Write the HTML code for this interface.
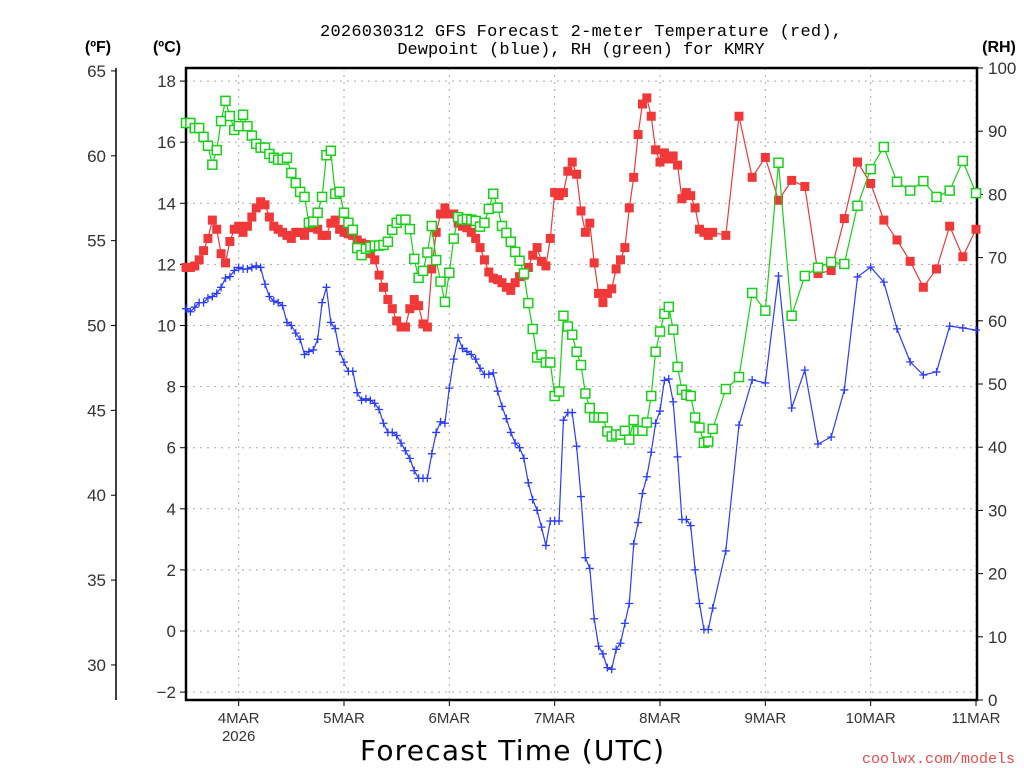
<!DOCTYPE html>
<html><head><meta charset="utf-8"><style>
html,body{margin:0;padding:0;background:#fff;}
svg{display:block;}
text{font-family:"Liberation Sans",sans-serif;}
</style></head><body>
<svg id="chart" width="1024" height="768" viewBox="0 0 1024 768" xmlns="http://www.w3.org/2000/svg">
<text x="581" y="36" text-anchor="middle" font-size="17" style="font-family:'Liberation Mono',monospace" fill="#000" textLength="522">2026030312 GFS Forecast 2-meter Temperature (red),</text>
<text x="581" y="54" text-anchor="middle" font-size="17" style="font-family:'Liberation Mono',monospace" fill="#000">Dewpoint (blue), RH (green) for KMRY</text>
<text x="98" y="52" text-anchor="middle" font-size="16" font-weight="bold">(ºF)</text>
<text x="167" y="52" text-anchor="middle" font-size="16" font-weight="bold">(ºC)</text>
<text x="999" y="52" text-anchor="middle" font-size="16" font-weight="bold">(RH)</text>
<text x="512" y="760" text-anchor="middle" font-size="28" style="font-family:'DejaVu Sans',sans-serif" fill="#000" textLength="304" lengthAdjust="spacing">Forecast Time (UTC)</text>
<text x="1015" y="763" text-anchor="end" font-size="15" style="font-family:'Liberation Mono',monospace" fill="#f04848">coolwx.com/models</text>
<g id="grid"></g><g id="axes"></g><g id="series"></g>
</svg>
<script>
// data: forecast hour, values
const tempHours = [];
for (let h = 0; h <= 120; h++) tempHours.push(h);
const tempLate = [123,126,129,132,135,138,141,144,147,150,153,156,159,162,165,168,171,174,177,180];
const tempC = [11.9,11.9,11.95,12.15,12.45,12.85,13.45,13.15,12.35,12.05,12.75,13.15,13.25,13.05,13.25,13.55,13.85,14.05,13.95,13.55,13.25,13.15,13.05,12.95,12.85,13.05,13.05,12.95,13.2,13.35,13.15,12.95,12.95,13.35,13.45,13.15,13.05,13.0,
12.95,12.8,12.7,12.65,12.35,12.15,11.65,11.25,10.85,10.55,10.15,9.95,9.95,10.55,10.85,10.65,10.05,9.95,11.85,13.05,13.65,13.85,13.65,13.65,13.35,13.25,13.2,13.05,12.85,12.55,12.15,11.75,11.55,11.5,11.4,11.25,11.15,11.4,11.6,11.65,11.9,
12.3,12.55,12.1,11.95,12.85,
14.35,14.25,14.35,15.05,15.35,14.95,13.75,13.05,13.35,12.05,11.05,10.75,11.05,11.2,11.85,12.15,12.55,13.85,14.85,16.25,17.25,17.45,16.85,15.75,15.35,15.65,15.45,15.55,15.25,14.15,14.35,14.25,13.85,13.15,13.05,12.95,13.05,
12.95,16.85,14.85,15.5,14.1,14.75,14.55,11.7,11.8,13.5,15.35,14.65,13.45,12.8,12.1,11.25,11.85,13.25,12.25,13.15];
const dewC = [10.55,10.45,10.6,10.75,10.75,10.9,10.95,11.05,11.25,11.55,11.6,11.8,11.9,11.85,11.85,11.9,11.95,11.9,11.35,10.95,10.8,10.75,10.65,10.1,10.0,9.75,9.55,9.05,9.15,9.2,9.55,10.75,11.25,10.1,9.9,9.15,8.8,8.5,
8.5,7.8,7.55,7.6,7.55,7.45,7.25,6.8,6.5,6.5,6.4,6.15,5.9,5.65,5.25,5.0,5.0,5.0,5.8,6.5,6.85,6.8,7.95,8.9,9.6,9.25,9.15,9.05,8.9,8.6,8.4,8.4,8.45,7.85,7.35,6.95,6.5,6.15,6.0,5.65,4.85,4.3,
3.95,3.4,2.8,3.6,3.6,3.6,6.9,7.15,7.15,6.05,4.4,2.4,2.05,0.4,-0.5,-0.75,-1.2,-1.25,-0.6,-0.4,0.25,0.9,2.85,3.55,4.5,5.05,5.85,6.8,7.2,8.2,8.25,7.5,5.7,3.65,3.65,3.45,2.0,0.9,0.05,0.05,0.75,
2.62,6.74,8.22,8.12,11.62,7.3,8.54,6.12,6.35,7.89,11.59,11.91,11.42,9.89,8.81,8.38,8.48,9.98,9.92,9.85];
const rhPct = [91.3,91.3,90.5,90.5,89.1,87.7,84.7,87.0,91.6,94.8,92.4,90.2,90.8,92.6,90.8,89.3,88.0,87.4,87.4,86.4,85.8,85.5,85.5,85.8,83.4,81.8,80.4,79.6,75.5,75.7,77.1,79.6,86.2,86.9,80.1,80.4,77.1,75.5,
74.4,71.5,70.4,71.4,71.7,71.9,71.9,72.0,72.5,74.4,75.5,76.0,76.0,74.5,69.8,66.8,67.9,70.8,75.0,69.6,66.2,63.0,67.6,73.0,76.4,76.0,76.1,76.0,75.8,74.9,75.5,77.7,80.1,77.9,75.0,73.9,72.5,70.9,69.5,67.5,62.8,58.7,54.2,54.6,53.4,53.4,48.1,
48.8,60.8,59.1,57.8,55.1,53.0,48.5,46.2,44.7,44.7,44.7,42.5,41.7,42.0,42.0,42.6,41.2,44.3,42.6,42.6,43.9,48.1,55.1,58.3,61.1,62.2,58.6,52.7,49.1,48.3,48.1,44.7,43.1,40.7,40.9,42.9,
49.2,51.1,64.4,61.6,85.0,60.8,67.1,68.4,69.3,69.0,78.2,84.0,87.5,82.0,80.6,82.1,79.6,80.6,85.3,80.2];
const cTicks = [-2,0,2,4,6,8,10,12,14,16,18];
const fTicks = [30,35,40,45,50,55,60,65];
const rhTicks = [0,10,20,30,40,50,60,70,80,90,100];
const dayLabels = ['4MAR','5MAR','6MAR','7MAR','8MAR','9MAR','10MAR','11MAR'];
const dayHours = [12,36,60,84,108,132,156,180];

const hours = tempHours.concat(tempLate);
const L=186,R=977,T=68,B=700;
const xOf = h => L + (R-L-1)*h/180;
const yC = c => 631 - c*30.55;
const yF = f => yC((f-32)/1.8);
const yRH = r => B - (B-T)*r/100;
const NS='http://www.w3.org/2000/svg';
function mk(tag, attrs, parent){const e=document.createElementNS(NS,tag);for(const k in attrs)e.setAttribute(k,attrs[k]);parent.appendChild(e);return e;}
const grid=document.getElementById('grid'), axes=document.getElementById('axes'), series=document.getElementById('series');

cTicks.forEach(c=>{
  const y=yC(c);
  const g=mk('line',{x1:L,x2:R,y1:y,y2:y,stroke:'#aaa','stroke-width':1,'stroke-dasharray':'2,5'},grid);
  
  
  mk('line',{x1:L-6,x2:L,y1:y,y2:y,stroke:'#000','stroke-width':1},axes);
  const t=mk('text',{x:L-10,y:y+6,'text-anchor':'end','font-size':17,fill:'#333'},axes);
  t.textContent=c<0?'\u2212'+(-c):String(c);
  
  
});
dayHours.forEach((h,i)=>{
  const x=xOf(h);
  const g=mk('line',{x1:x,x2:x,y1:T,y2:B,stroke:'#aaa','stroke-width':1,'stroke-dasharray':'2,5'},grid);
  
  
  mk('line',{x1:x,x2:x,y1:B,y2:B+6,stroke:'#000','stroke-width':1},axes);
  const t=mk('text',{x:x,y:B+23,'text-anchor':'middle','font-size':15,fill:'#333'},axes);
  t.textContent=dayLabels[i];
  
  
});
const yr=mk('text',{x:xOf(12),y:B+41,'text-anchor':'middle','font-size':15,fill:'#333'},axes);
yr.textContent='2026';


fTicks.forEach(f=>{
  const y=yF(f);
  mk('line',{x1:111,x2:116,y1:y,y2:y,stroke:'#000','stroke-width':1},axes);
  const t=mk('text',{x:106,y:y+6,'text-anchor':'end','font-size':17,fill:'#333'},axes);
  t.textContent=String(f);
  
  
});
rhTicks.forEach(r=>{
  const y=yRH(r);
  mk('line',{x1:R,x2:R+6,y1:y,y2:y,stroke:'#000','stroke-width':1},axes);
  const t=mk('text',{x:R+11,y:y+6,'text-anchor':'start','font-size':17,fill:'#333'},axes);
  t.textContent=String(r);
  
  
});
const fa=mk('line',{x1:116,x2:116,y1:T,y2:B,stroke:'#000','stroke-width':1.5},axes);


const fr=mk('rect',{x:L,y:T,width:R-L,height:B-T,fill:'none',stroke:'#000','stroke-width':2.5},axes);



function drawSeries(vals, yfun, color, kind, name){
  const pts=vals.map((v,i)=>xOf(hours[i]).toFixed(1)+','+yfun(v).toFixed(1)).join(' ');
  const pl=mk('polyline',{points:pts,fill:'none',stroke:color,'stroke-width':1.2},series);
  
  
  vals.forEach((v,i)=>{
    const x=xOf(hours[i]), y=yfun(v);
    let m;
    if(kind==='fill') m=mk('rect',{x:x-4.5,y:y-4.5,width:9,height:9,fill:color},series);
    else if(kind==='open') m=mk('rect',{x:x-4.5,y:y-4.5,width:9,height:9,fill:'#fff',stroke:color,'stroke-width':1.5},series);
    else m=mk('path',{d:`M${x-4} ${y}H${x+4}M${x} ${y-4}V${y+4}`,stroke:color,'stroke-width':1.3,fill:'none'},series);
    
    
  });
}
drawSeries(dewC,yC,'#2a3cff','plus','dewpoint');
drawSeries(tempC,yC,'#f03838','fill','temperature');
drawSeries(rhPct,yRH,'#18d018','open','rh');
</script>
</body></html>
